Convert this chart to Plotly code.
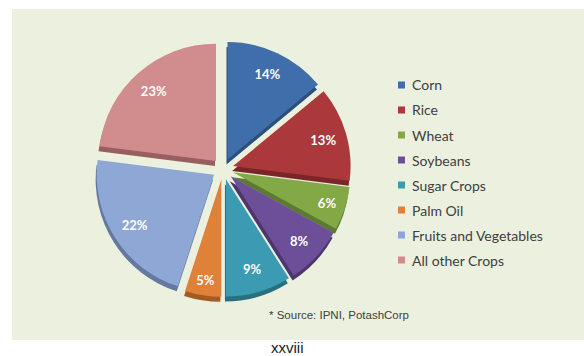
import plotly.graph_objects as go

# Share of world fertilizer use by crop
crops = ["Corn", "Rice", "Wheat", "Soybeans", "Sugar Crops", "Palm Oil",
         "Fruits and Vegetables", "All other Crops"]
shares = [14, 13, 6, 8, 9, 5, 22, 23]

face_colors = ["#3F6EAA", "#AB393B", "#82A946", "#6C4F98", "#3A9BB2",
               "#E0813A", "#8EA7D5", "#D18D8D"]
side_colors = ["#2D4F7D", "#7A2628", "#5C7A30", "#4C366E", "#286F80",
               "#A45A24", "#6579A0", "#975F5F"]

W, H = 584, 356
cx, cy, R = 223, 169, 128   # pie centre and outer reach in pixels (from top-left)
depth = 5                    # visible thickness of the tilted pie
pull = 0.09

def dom(x0, x1, y0, y1):
    return dict(x=[x0 / W, x1 / W], y=[1 - y1 / H, 1 - y0 / H])

common = dict(labels=crops, values=shares, sort=False, direction="clockwise",
              rotation=0, pull=pull, showlegend=False)

fig = go.Figure()

# darker copy underneath gives the slices their edge
fig.add_trace(go.Pie(
    **common, marker=dict(colors=side_colors, line=dict(width=0)),
    textinfo="none", hoverinfo="skip",
    domain=dom(cx - R - 1, cx + R - 1, cy - R + depth, cy + R + depth),
))

# slice faces
fig.add_trace(go.Pie(
    **common, marker=dict(colors=face_colors, line=dict(width=0)),
    textinfo="none",
    domain=dom(cx - R, cx + R, cy - R, cy + R),
))

# transparent ring carrying the percentage labels toward the rim
fig.add_trace(go.Pie(
    **common, hole=0.6,
    marker=dict(colors=["rgba(0,0,0,0)"] * len(crops), line=dict(width=0)),
    textinfo="percent", textposition="inside", insidetextorientation="horizontal",
    textfont=dict(family="Lato", size=13, color="white", weight="bold"),
    hoverinfo="skip",
    domain=dom(cx - R, cx + R, cy - R, cy + R),
))

shapes = [dict(type="rect", xref="paper", yref="paper", layer="below",
               x0=12 / W, x1=1, y0=1 - 340 / H, y1=1 - 9 / H,
               fillcolor="#EBF1DE", line=dict(width=0))]
annotations = []

# legend: small colour squares with labels
lx, ly0, step = 398, 85, 25
for i, (name, col) in enumerate(zip(crops, face_colors)):
    y = ly0 + i * step
    shapes.append(dict(type="rect", xref="paper", yref="paper",
                       x0=lx / W, x1=(lx + 7) / W,
                       y0=1 - (y + 3.5) / H, y1=1 - (y - 3.5) / H,
                       fillcolor=col, line=dict(width=0)))
    annotations.append(dict(text=name, xref="paper", yref="paper",
                            x=(lx + 12) / W, y=1 - y / H, xanchor="left", yanchor="middle",
                            showarrow=False,
                            font=dict(family="Lato", size=14, color="#404040")))

annotations.append(dict(text="* Source: IPNI, PotashCorp", xref="paper", yref="paper",
                        x=267 / W, y=1 - 315 / H, xanchor="left", yanchor="middle",
                        showarrow=False,
                        font=dict(family="Liberation Sans", size=11.5, color="#404040")))
annotations.append(dict(text="xxviii", xref="paper", yref="paper",
                        x=287 / W, y=1 - 347 / H, xanchor="center", yanchor="middle",
                        showarrow=False,
                        font=dict(family="Liberation Sans", size=15, color="#222222")))

fig.update_layout(
    width=W, height=H, margin=dict(l=0, r=0, t=0, b=0),
    paper_bgcolor="white", plot_bgcolor="white",
    shapes=shapes, annotations=annotations,
)

fig.write_html("out.html", config=dict(displayModeBar=False))
